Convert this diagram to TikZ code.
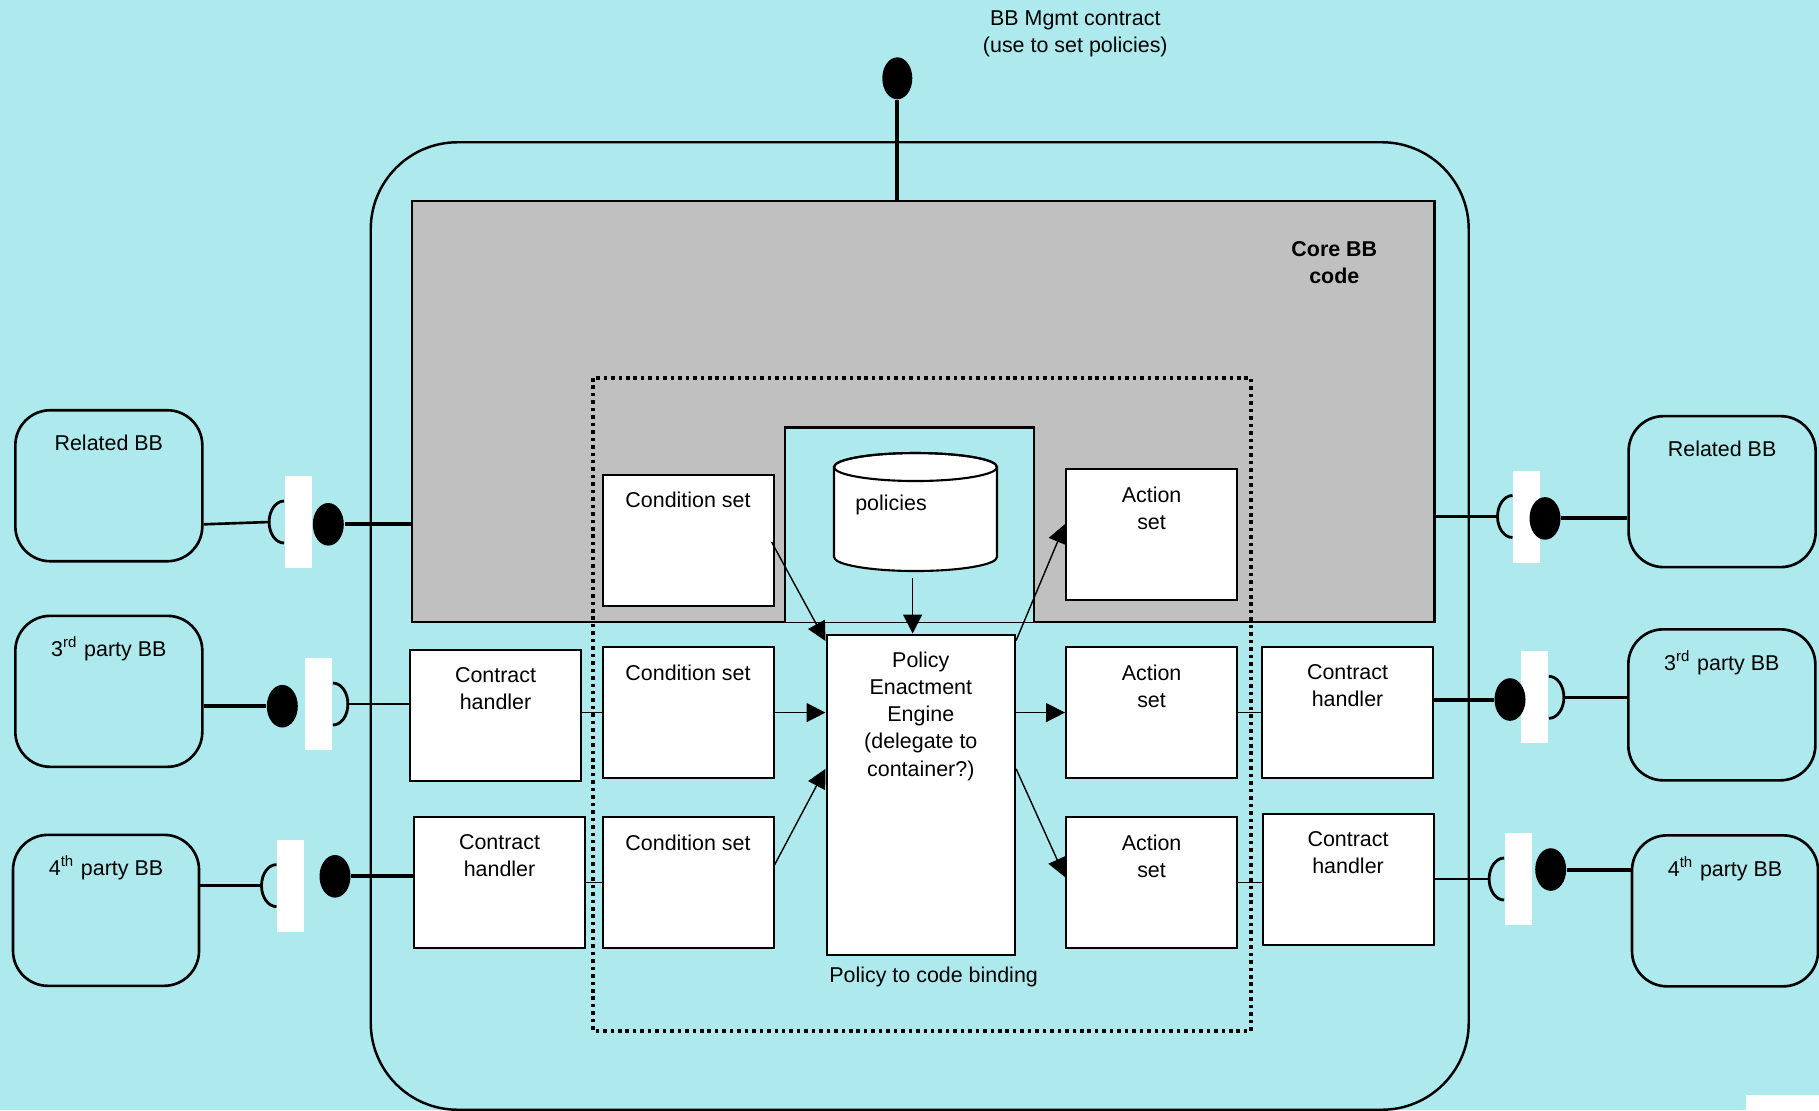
\documentclass[tikz,border=0pt]{standalone}
\usepackage{fontspec}
\setmainfont{Liberation Sans}
\usetikzlibrary{arrows.meta,shapes.geometric,positioning}

\definecolor{sky}{RGB}{174,234,237}
\definecolor{coregray}{RGB}{192,192,192}

\begin{document}
\begin{tikzpicture}[font=\fontsize{6.1}{7.7}\selectfont,
    shell/.style={draw, line width=0.7pt, rounded corners=0.87cm, inner sep=0pt},
    core/.style ={draw, line width=0.8pt, fill=coregray, inner sep=0pt},
    bb/.style   ={draw, line width=0.75pt, rounded corners=0.35cm, minimum width=1.87cm, minimum height=1.51cm, inner sep=0pt, anchor=north west},
    box/.style  ={draw, line width=0.6pt, fill=white, minimum width=1.71cm, minimum height=1.31cm, inner sep=0pt, anchor=north west},
    lbl/.style  ={anchor=north, inner sep=0pt, align=center},
    bblbl/.style={anchor=base, inner sep=0pt},
    gap/.style  ={fill=white, minimum width=0.27cm, minimum height=0.92cm, inner sep=0pt},
    ball/.style ={ellipse, fill=black, minimum width=0.31cm, minimum height=0.426cm, inner sep=0pt},
    sock/.style ={line width=0.8pt},
    wire/.style ={line width=0.75pt},
    stem/.style ={line width=1.15pt},
    link/.style ={line width=0.4pt},
    arr/.style  ={-{Triangle[length=0.19cm,width=0.19cm]}, line width=0.4pt},
  ]
  \fill[sky] (0,0) rectangle (18.19,-11.10);
  \useasboundingbox (0,0) rectangle (18.19,-11.10);
  \fill[white] (17.457,-10.947) rectangle (18.19,-11.10);

  % building block shell and core code
  \node[shell, anchor=north west, minimum width=10.98cm, minimum height=9.675cm] (shell) at (3.695,-1.41) {};
  \node[core, anchor=north west, minimum width=10.225cm, minimum height=4.21cm] (core) at (4.105,-1.995) {};
  \draw[fill=sky, line width=0.8pt] (7.85,-6.222) |- (10.34,-4.275) -- (10.34,-6.222);
  \node[lbl, font=\fontsize{6.1}{7.7}\selectfont\bfseries] at (13.343,-2.406) {Core BB\\code};

  % policy to code binding
  \draw[line width=1pt, dash pattern=on 1pt off 1.12pt] (5.93,-3.78) rectangle (12.51,-10.31);
  \node[lbl] at (9.336,-9.66) {Policy to code binding};

  \foreach \n/\y in {1/-4.735, 2/-6.46, 3/-8.16}{
    \node[box] (cs\n) at (6.015,\y) {};
    \node[lbl] at ([yshift=-0.18cm]cs\n.north) {Condition set};
  }
  \foreach \n/\y in {1/-4.68, 2/-6.46, 3/-8.16}{
    \node[box] (as\n) at (10.65,\y) {};
    \node[lbl] at ([yshift=-0.18cm]as\n.north) {Action\\set};
  }
  \node[box] (ch1) at (4.09,-6.49) {};
  \node[box] (ch2) at (4.13,-8.16) {};
  \node[box] (ch3) at (12.61,-6.46) {};
  \node[box] (ch4) at (12.615,-8.125) {};
  \foreach \n in {1,...,4}
    \node[lbl] at ([yshift=-0.18cm]ch\n.north) {Contract\\handler};

  \node[box, minimum width=1.885cm, minimum height=3.205cm] (pee) at (8.255,-6.335) {};
  \node[lbl] at ([yshift=-0.18cm]pee.north) {Policy\\Enactment\\Engine\\(delegate to\\container?)};

  % policies store
  \draw[fill=white, line width=0.6pt] (8.34,-4.67) -- (8.34,-5.57)
    arc[start angle=180, end angle=360, x radius=0.815, y radius=0.14] -- (9.97,-4.67)
    arc[start angle=0, end angle=180, x radius=0.815, y radius=0.14] -- cycle;
  \draw[line width=0.6pt] (9.155,-4.67) ellipse[x radius=0.815, y radius=0.14];
  \node[anchor=north west, inner sep=0pt] (pol) at (8.546,-4.945) {policies};
  \coordinate (polb) at (9.126,-5.775);

  % flows through the engine
  \draw[arr] (polb) -- (polb |- pee.north);
  \draw[arr] ([xshift=-0.03cm,yshift=-0.02cm]cs1.east) -- ([yshift=-0.075cm]pee.north west);
  \draw[arr] (cs2.east) -- (pee.west |- cs2.east);
  \draw[arr] ([yshift=0.178cm]cs3.east) -- ([yshift=0.26cm]pee.west);
  \draw[arr] ([yshift=-0.07cm]pee.north east) -- ([yshift=0.105cm]as1.west);
  \draw[arr] (pee.east |- as2.west) -- (as2.west);
  \draw[arr] ([yshift=0.26cm]pee.east) -- ([yshift=0.055cm]as3.west);

  \draw[link] (ch1.east |- cs2.west) -- (cs2.west);
  \draw[link] (ch2.east |- cs3.west) -- (cs3.west);
  \draw[link] (as2.east) -- (ch3.west |- as2.east);
  \draw[link] (as3.east) -- (ch4.west |- as3.east);

  % related building blocks
  \node[bb] (relL) at (0.14,-4.089) {};
  \node[bb] (thrL) at (0.14,-6.145) {};
  \node[bb, minimum width=1.86cm] (forL) at (0.117,-8.335) {};
  \node[bb] (relR) at (16.273,-4.148) {};
  \node[bb] (thrR) at (16.27,-6.28) {};
  \node[bb, minimum width=1.86cm] (forR) at (16.307,-8.34) {};
  \node[bblbl] at ([yshift=-0.42cm]relL.north) {Related BB};
  \node[bblbl] at ([yshift=-0.42cm]thrL.north) {3\textsuperscript{rd} party BB};
  \node[bblbl] at ([yshift=-0.42cm]forL.north) {4\textsuperscript{th} party BB};
  \node[bblbl] at ([yshift=-0.42cm]relR.north) {Related BB};
  \node[bblbl] at ([yshift=-0.42cm]thrR.north) {3\textsuperscript{rd} party BB};
  \node[bblbl] at ([yshift=-0.42cm]forR.north) {4\textsuperscript{th} party BB};

  % contracts: ball = provided, socket = required
  \node[gap] (g1) at (2.983,-5.22) {};
  \node[gap] (g2) at (3.187,-7.04) {};
  \node[gap] (g3) at (2.907,-8.856) {};
  \node[gap] (g4) at (15.267,-5.165) {};
  \node[gap] (g5) at (15.347,-6.973) {};
  \node[gap] (g6) at (15.183,-8.79) {};

  \node[ball] (b1) at (3.283,-5.243) {};
  \node[ball] (b2) at (2.823,-7.062) {};
  \node[ball] (b3) at (3.35,-8.763) {};
  \node[ball] (b4) at (15.45,-5.184) {};
  \node[ball] (b5) at (15.10,-6.995) {};
  \node[ball] (b6) at (15.507,-8.695) {};
  \node[ball, minimum width=0.30cm, minimum height=0.42cm] (bt) at (8.973,-0.783) {};

  \draw[wire] (relL.east |- b1) -- ([xshift=-0.15cm]g1.west);
  \draw[stem] (b1) -- (core.west |- b1);
  \draw[stem] (thrL.east |- b2) -- (b2);
  \draw[wire] ([xshift=0.15cm]g2.east) -- (ch1.west |- g2.east);
  \draw[wire] (forL.east |- g3.west) -- ([xshift=-0.15cm]g3.west);
  \draw[stem] (b3) -- (ch2.west |- b3);
  \draw[wire] (core.east |- g4.west) -- ([xshift=-0.15cm]g4.west);
  \draw[stem] (b4) -- (relR.west |- b4);
  \draw[stem] (ch3.east |- b5) -- (b5);
  \draw[wire] ([xshift=0.15cm]g5.east) -- (thrR.west |- g5.east);
  \draw[wire] (ch4.east |- g6.west) -- ([xshift=-0.15cm]g6.west);
  \draw[stem] (b6) -- (forR.west |- b6);
  \draw[stem] (bt) -- (bt |- core.north);

  \foreach \g in {g1,g3,g4,g6}
    \draw[sock] ([yshift=0.21cm]\g.west) arc[start angle=90, end angle=270, x radius=0.15cm, y radius=0.21cm];
  \foreach \g in {g2,g5}
    \draw[sock] ([yshift=0.21cm]\g.east) arc[start angle=90, end angle=-90, x radius=0.15cm, y radius=0.21cm];

  \node[lbl] at (10.753,-0.096) {BB Mgmt contract\\(use to set policies)};
\end{tikzpicture}
\end{document}
